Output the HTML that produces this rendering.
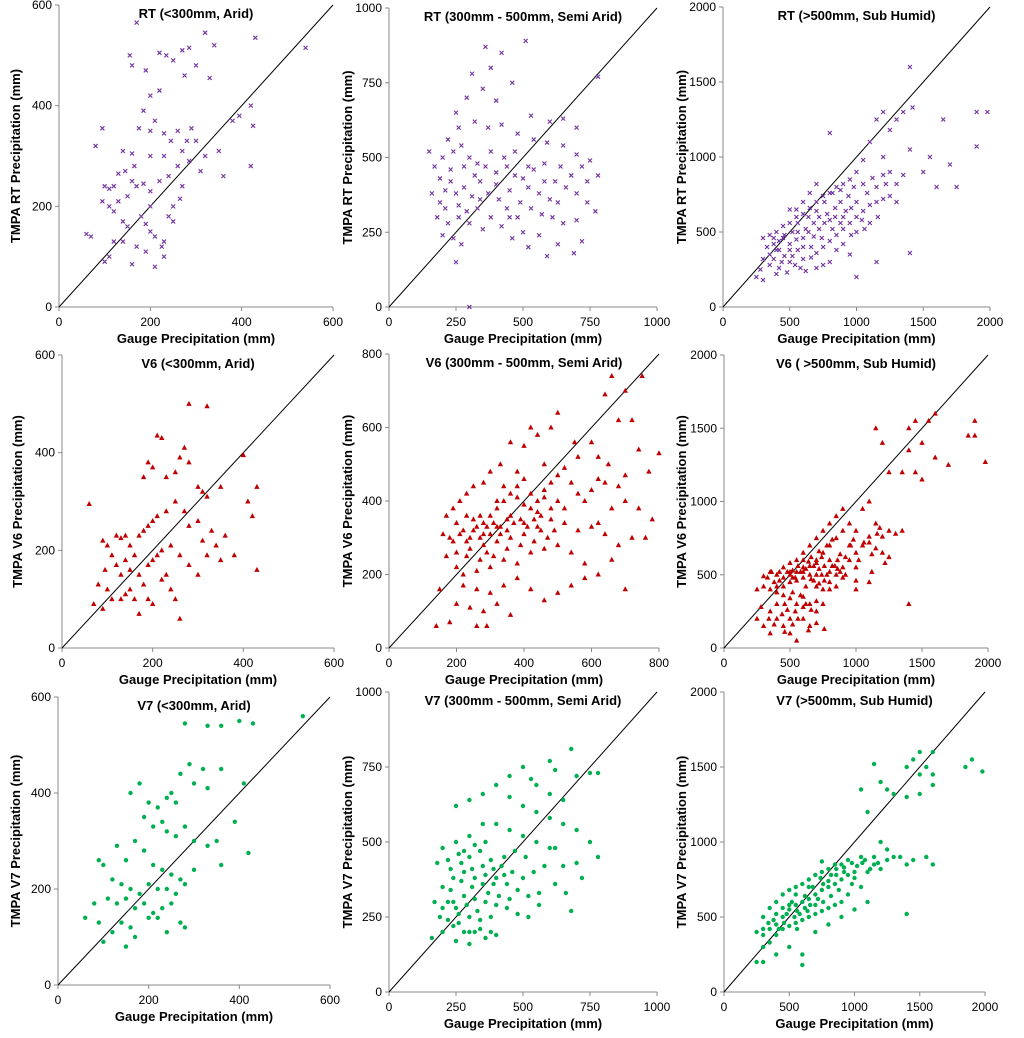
<!DOCTYPE html>
<html><head><meta charset="utf-8">
<style>
html,body{margin:0;padding:0;background:#fff;}
svg{display:block;font-family:"Liberation Sans",Arial,sans-serif;}
.t{font-weight:bold;font-size:13px;}
.tick{font-size:12px;}
</style></head>
<body>
<svg id="chart" width="1024" height="1038" viewBox="0 0 1024 1038" xmlns="http://www.w3.org/2000/svg"></svg>
<script>
// ---- data (mm) ----
const rtAridPts=[[170,565],[155,500],[160,480],[190,470],[220,505],[235,500],[250,490],[270,510],[285,515],[320,545],[340,520],[430,535],[540,515],[300,480],[330,455],[275,460],[200,420],[220,430],[185,390],[210,370],[175,355],[200,350],[230,345],[260,350],[290,355],[300,330],[245,330],[270,310],[230,300],[200,300],[160,305],[165,280],[145,270],[130,265],[120,240],[110,235],[100,240],[95,210],[110,200],[130,210],[150,220],[170,240],[185,245],[200,230],[220,250],[240,260],[260,280],[285,290],[320,300],[350,310],[380,370],[395,380],[420,400],[425,360],[360,260],[420,280],[80,320],[95,355],[140,310],[160,250],[120,190],[140,170],[150,160],[180,180],[190,165],[200,150],[210,140],[230,130],[225,120],[210,80],[160,85],[110,100],[100,90],[70,140],[60,145],[120,130],[140,130],[170,120],[190,110],[250,200],[270,240],[310,270],[240,180],[265,215],[200,200],[250,170],[280,330],[230,100]];
const rtSemiPts=[[360,870],[510,890],[420,850],[380,800],[310,780],[460,750],[350,730],[290,700],[400,690],[530,640],[600,620],[650,630],[700,600],[780,770],[250,650],[260,600],[320,620],[370,600],[420,610],[480,580],[540,560],[590,550],[650,540],[700,510],[750,490],[780,440],[200,500],[220,560],[240,520],[270,540],[300,500],[330,480],[360,470],[400,450],[440,470],[470,440],[500,430],[540,460],[580,420],[620,420],[660,400],[700,380],[740,350],[770,320],[150,520],[170,470],[190,430],[210,390],[230,420],[250,380],[280,400],[310,370],[340,420],[370,380],[410,360],[450,390],[490,350],[530,330],[570,310],[610,300],[650,280],[700,290],[720,220],[590,170],[630,210],[560,240],[500,250],[460,230],[420,270],[380,300],[330,330],[290,320],[260,300],[220,280],[200,240],[240,230],[270,210],[250,150],[300,0],[350,260],[450,300],[520,200],[690,180],[160,380],[180,300],[230,460],[280,470],[320,440],[380,520],[430,500],[470,520],[520,470],[560,380],[600,360],[640,470],[680,440],[720,470],[740,420],[260,340],[300,280],[340,360],[400,410],[440,330],[480,300],[520,400],[580,480],[630,350],[210,330],[190,350]];
const rtHumidPts=[[1400,1600],[1420,1330],[1350,1300],[1300,1250],[1200,1300],[1150,1250],[1900,1300],[1980,1300],[1650,1250],[1250,1180],[1100,1100],[1400,1050],[1550,1000],[1700,950],[1750,800],[1900,1070],[1500,900],[1350,880],[800,1160],[1200,1000],[1050,980],[1000,900],[950,850],[900,820],[850,800],[800,760],[750,740],[700,700],[650,660],[600,620],[550,600],[500,560],[450,540],[400,500],[350,480],[300,460],[380,420],[420,380],[460,340],[500,300],[540,280],[580,260],[620,240],[660,330],[700,360],[750,400],[800,440],[850,480],[900,520],[950,560],[1000,600],[1050,640],[1100,680],[1150,700],[1200,720],[1250,740],[1300,700],[1100,560],[1000,500],[900,420],[850,380],[800,300],[750,280],[700,260],[600,400],[550,450],[500,420],[450,460],[400,380],[350,350],[300,320],[280,250],[250,200],[300,180],[400,220],[480,230],[560,500],[620,520],[680,560],[720,600],[780,620],[840,660],[880,700],[940,740],[980,800],[1050,820],[1120,860],[1200,880],[650,760],[700,820],[600,700],[550,650],[500,650],[1400,360],[1600,800],[1150,300],[1000,200],[950,350],[420,440],[460,480],[520,500],[560,380],[600,460],[640,500],[680,470],[720,520],[760,560],[800,580],[840,600],[880,560],[920,640],[960,660],[1000,700],[1040,580],[1080,760],[1150,800],[1220,820],[380,320],[440,300],[520,340],[600,320],[660,400],[740,460],[820,520],[900,600],[960,480],[1060,520],[1160,600],[1250,900],[1300,820],[350,280],[420,260],[500,380],[560,560],[640,600],[700,640],[760,700],[820,760],[880,780],[330,400],[380,460]];
const v6AridPts=[[280,500],[320,495],[400,395],[210,435],[220,430],[190,380],[200,370],[180,350],[230,350],[250,360],[260,390],[270,410],[280,380],[300,330],[310,320],[320,310],[350,330],[410,300],[430,330],[60,295],[90,220],[100,210],[120,230],[130,225],[140,230],[150,210],[170,230],[180,240],[190,250],[200,260],[210,270],[230,280],[250,300],[270,280],[280,250],[300,260],[310,220],[330,240],[340,210],[360,230],[380,190],[420,270],[430,160],[110,190],[120,170],[130,150],[140,180],[150,160],[160,190],[170,150],[180,130],[190,170],[200,180],[210,190],[220,200],[240,210],[260,190],[280,170],[300,150],[320,190],[350,180],[100,120],[110,100],[90,80],[70,90],[80,130],[95,160],[130,100],[150,120],[170,70],[200,90],[220,140],[240,120],[250,100],[260,60],[230,150],[190,100],[140,110],[160,100]];
const v6SemiPts=[[750,740],[660,740],[640,690],[700,700],[720,620],[680,620],[800,530],[740,540],[770,480],[700,470],[650,500],[600,560],[550,560],[500,640],[480,600],[440,580],[400,550],[360,560],[330,500],[300,480],[280,450],[250,440],[230,420],[210,400],[190,380],[170,360],[200,340],[220,320],[240,300],[260,330],[280,340],[300,360],[320,380],[340,400],[360,420],[380,440],[400,460],[420,420],[440,400],[460,430],[480,450],[500,470],[520,490],[540,450],[560,420],[580,400],[600,430],[620,460],[640,450],[660,380],[700,400],[740,380],[780,350],[760,300],[720,300],[680,280],[640,310],[600,330],[560,320],[520,340],[480,350],[440,330],[400,310],[360,300],[320,290],[280,280],[240,270],[200,260],[180,300],[160,310],[200,220],[220,200],[260,210],[300,220],[340,240],[380,230],[420,260],[460,270],[500,280],[540,260],[580,230],[620,200],[660,240],[700,160],[220,170],[260,160],[300,150],[340,170],[380,190],[420,160],[460,130],[500,150],[540,170],[580,190],[200,120],[240,110],[280,100],[320,120],[360,90],[260,60],[290,60],[180,70],[150,160],[140,60],[620,340],[420,600],[380,480],[350,350],[450,360],[480,380],[520,380],[400,390],[300,310],[330,330],[270,360],[230,360],[560,520],[620,520],[680,440],[460,500],[210,310],[230,290],[250,320],[270,300],[290,330],[310,340],[330,310],[350,320],[370,340],[390,350],[410,330],[430,350],[450,320],[470,300],[490,320],[250,350],[280,310],[320,330],[360,360],[400,340],[440,370],[290,260],[310,250],[350,270],[390,280],[430,290],[190,290],[170,250],[230,250],[270,240],[320,400],[340,440],[380,410],[420,380],[460,410],[500,400]];
const v6HumidPts=[[1600,1600],[1550,1550],[1450,1550],[1400,1500],[1500,1400],[1600,1300],[1700,1250],[1900,1550],[1850,1450],[1900,1450],[1980,1270],[1400,1350],[1350,1200],[1450,1200],[1500,1150],[1150,1500],[1200,1400],[1250,1200],[1100,1000],[1050,950],[1150,850],[1250,800],[1300,780],[1350,800],[1200,760],[1100,760],[1000,800],[950,850],[900,800],[850,750],[800,700],[750,650],[700,600],[650,560],[600,550],[550,520],[500,500],[450,480],[400,500],[350,520],[300,490],[250,400],[300,420],[350,400],[400,380],[450,360],[500,340],[550,300],[600,280],[650,300],[700,320],[750,400],[800,450],[850,500],[900,550],[950,600],[1000,650],[1050,700],[1100,720],[1150,680],[1200,650],[1000,550],[900,480],[850,420],[800,400],[700,500],[650,500],[600,480],[550,460],[500,450],[450,420],[400,300],[350,250],[400,200],[450,150],[500,100],[550,50],[350,100],[300,150],[250,200],[600,200],[650,150],[700,250],[750,300],[550,600],[600,650],[650,700],[700,750],[750,800],[800,850],[850,900],[900,950],[950,700],[1400,300],[1000,400],[580,520],[620,540],[680,560],[720,540],[520,480],[480,520],[420,520],[380,450],[450,550],[500,580],[520,530],[560,560],[600,520],[640,590],[660,470],[700,580],[740,620],[760,560],[800,600],[820,560],[860,600],[880,640],[920,620],[960,700],[980,740],[1020,600],[1060,720],[1120,640],[1160,780],[1180,820],[400,420],[420,460],[460,300],[480,260],[520,380],[540,250],[560,200],[600,350],[620,300],[660,260],[700,420],[720,440],[760,460],[780,500],[840,560],[880,520],[920,500],[440,230],[380,160],[340,200],[280,280],[500,200],[580,360],[620,420],[680,460],[740,500],[800,520],[860,540],[500,520],[540,480],[360,520],[330,480],[600,600],[660,620],[720,660],[780,700],[820,740],[700,170],[760,130],[640,120],[520,160],[460,110],[1000,460],[1120,520],[1100,450],[1220,580],[1250,620]];
const v7AridPts=[[540,560],[280,545],[330,540],[360,540],[400,550],[430,545],[290,460],[320,450],[270,440],[300,420],[330,410],[360,450],[250,400],[260,380],[240,390],[390,340],[410,420],[420,275],[180,420],[160,400],[200,380],[220,370],[190,350],[230,340],[210,330],[240,320],[260,310],[280,330],[300,300],[330,290],[350,300],[300,240],[360,250],[280,210],[260,190],[240,200],[220,200],[200,210],[180,190],[160,200],[140,210],[120,220],[100,250],[90,260],[110,180],[130,170],[150,180],[170,160],[190,170],[210,150],[230,160],[250,170],[270,220],[250,230],[230,240],[210,250],[190,280],[170,300],[150,260],[130,290],[80,170],[60,140],[90,130],[100,90],[120,110],[140,130],[160,120],[170,100],[150,80],[200,140],[270,130],[280,120],[220,140],[240,110]];
const v7SemiPts=[[680,810],[600,770],[620,740],[500,750],[450,720],[530,710],[700,720],[750,730],[780,730],[550,690],[600,660],[650,640],[400,690],[350,660],[300,640],[250,620],[450,650],[500,620],[550,600],[600,580],[650,560],[700,540],[750,500],[780,450],[700,430],[720,380],[650,420],[600,480],[550,500],[500,520],[450,540],[400,560],[350,560],[300,520],[250,500],[200,480],[180,430],[220,440],[260,460],[300,450],[340,470],[380,440],[420,420],[460,400],[500,380],[540,400],[580,420],[620,360],[660,330],[680,270],[560,330],[520,320],[480,340],[440,360],[400,380],[360,390],[320,380],[280,400],[240,380],[200,350],[170,300],[200,280],[240,300],[280,320],[320,310],[360,300],[400,290],[440,280],[480,260],[520,250],[380,250],[340,240],[300,250],[260,260],[220,240],[190,250],[160,180],[200,200],[240,220],[280,200],[320,200],[360,180],[400,190],[250,170],[300,160],[380,200],[560,290],[620,480],[230,340],[270,370],[310,350],[350,420],[390,410],[430,450],[470,470],[510,450],[250,280],[290,290],[330,270],[370,330],[410,320],[450,310],[230,410],[270,430],[310,410],[350,360],[390,360],[430,390],[220,300],[260,230],[300,200],[340,210],[280,470],[320,490],[360,500]];
const v7HumidPts=[[1600,1600],[1500,1600],[1450,1550],[1550,1500],[1400,1500],[1500,1450],[1600,1450],[1850,1500],[1900,1550],[1980,1470],[1150,1520],[1200,1400],[1250,1350],[1300,1320],[1400,1300],[1500,1320],[1600,1380],[1050,1350],[1100,1200],[1200,1000],[1300,900],[1400,850],[1600,850],[1550,900],[1450,880],[1350,900],[1250,950],[1150,900],[1050,900],[950,880],[850,850],[800,820],[750,800],[700,780],[650,750],[600,720],[550,700],[500,680],[450,650],[400,600],[350,560],[300,500],[250,400],[300,380],[350,420],[400,450],[450,500],[500,550],[550,580],[600,600],[650,620],[700,650],[750,680],[800,700],[850,720],[900,750],[950,780],[1000,800],[1100,800],[1200,820],[1050,700],[950,650],[900,600],[850,580],[800,560],[750,540],[700,520],[650,500],[600,480],[550,460],[500,440],[450,420],[400,380],[350,330],[300,300],[250,200],[300,200],[400,250],[500,300],[600,250],[600,180],[700,400],[800,450],[900,500],[1000,550],[1100,600],[1400,520],[1150,850],[900,850],[750,870],[650,700],[550,650],[500,580],[450,560],[400,520],[480,520],[520,600],[560,540],[620,560],[660,580],[720,620],[760,720],[820,780],[860,820],[920,800],[980,860],[1020,840],[1080,880],[1120,820],[1180,860],[980,720],[880,680],[820,640],[760,600],[700,580],[640,540],[580,520],[540,500],[460,460],[420,420],[380,480],[340,460],[300,420],[560,420],[620,640],[680,700],[740,760],[800,740],[860,780],[920,830],[1060,860],[1000,760],[1250,880]];
const ticks600=[0,200,400,600];
const ticks1000=[0,250,500,750,1000];
const ticks800=[0,200,400,600,800];
const ticks2000=[0,500,1000,1500,2000];

// ---- layout ----
const panels=[
 {name:'rt-arid',title:'RT (<300mm, Arid)',ylab:'TMPA RT Precipitation (mm)',pts:rtAridPts,ticks:ticks600,x0:59,x1:333,y0:307,y1:5,ylx:20,m:'x'},
 {name:'rt-semi-arid',title:'RT (300mm - 500mm, Semi Arid)',ylab:'TMPA RT Precipitation (mm)',pts:rtSemiPts,ticks:ticks1000,x0:389,x1:657,y0:307,y1:8,ylx:352,m:'x'},
 {name:'rt-sub-humid',title:'RT (>500mm, Sub Humid)',ylab:'TMPA RT Precipitation (mm)',pts:rtHumidPts,ticks:ticks2000,x0:723,x1:990,y0:307,y1:7,ylx:686,m:'x'},
 {name:'v6-arid',title:'V6 (<300mm, Arid)',ylab:'TMPA V6 Precipitation (mm)',pts:v6AridPts,ticks:ticks600,x0:62,x1:334,y0:648,y1:355,ylx:22,m:'t'},
 {name:'v6-semi-arid',title:'V6 (300mm - 500mm, Semi Arid)',ylab:'TMPA V6 Precipitation (mm)',pts:v6SemiPts,ticks:ticks800,x0:389,x1:659,y0:648,y1:354,ylx:352,m:'t'},
 {name:'v6-sub-humid',title:'V6 ( >500mm, Sub Humid)',ylab:'TMPA V6 Precipitation (mm)',pts:v6HumidPts,ticks:ticks2000,x0:724,x1:988,y0:648,y1:355,ylx:686,m:'t'},
 {name:'v7-arid',title:'V7   (<300mm, Arid)',ylab:'TMPA V7 Precipitation (mm)',pts:v7AridPts,ticks:ticks600,x0:58,x1:330,y0:985,y1:697,ylx:20,m:'c'},
 {name:'v7-semi-arid',title:'V7   (300mm - 500mm, Semi Arid)',ylab:'TMPA V7 Precipitation (mm)',pts:v7SemiPts,ticks:ticks1000,x0:389,x1:657,y0:992,y1:692,ylx:352,m:'c'},
 {name:'v7-sub-humid',title:'V7   (>500mm, Sub Humid)',ylab:'TMPA V7 Precipitation (mm)',pts:v7HumidPts,ticks:ticks2000,x0:724,x1:985,y0:992,y1:692,ylx:686,m:'c'}
];
const NS='http://www.w3.org/2000/svg';
const svg=document.getElementById('chart');
function mk(tag,attrs,parent,text){const e=document.createElementNS(NS,tag);for(const k in attrs)e.setAttribute(k,attrs[k]);if(text!==undefined)e.textContent=text;parent.appendChild(e);return e;}
panels.forEach(p=>{
 const max=p.ticks[p.ticks.length-1];
 const sx=v=>p.x0+(v/max)*(p.x1-p.x0);
 const sy=v=>p.y0-(v/max)*(p.y0-p.y1);
 const g=mk('g',{},svg);
 
 
 const ax=mk('line',{x1:p.x0,y1:p.y0,x2:p.x1,y2:p.y0,stroke:'#888','stroke-width':1},g);
 
 
 const ay=mk('line',{x1:p.x0,y1:p.y0,x2:p.x0,y2:p.y1,stroke:'#888','stroke-width':1},g);
 
 
 p.ticks.forEach(t=>{
  mk('line',{x1:sx(t),y1:p.y0,x2:sx(t),y2:p.y0+4,stroke:'#888'},g);
  mk('line',{x1:p.x0-4,y1:sy(t),x2:p.x0,y2:sy(t),stroke:'#888'},g);
  const xl=mk('text',{x:sx(t),y:p.y0+19,'text-anchor':'middle',class:'tick'},g,String(t));
  
  
  const yl=mk('text',{x:p.x0-7,y:sy(t)+4,'text-anchor':'end',class:'tick'},g,String(t));
  
  
 });
 const d=mk('line',{x1:sx(0),y1:sy(0),x2:sx(max),y2:sy(max),stroke:'#000','stroke-width':1},g);
 
 
 p.pts.forEach(pt=>{
  const x=sx(pt[0]),y=sy(pt[1]);
  let e;
  if(p.m==='x'){
   e=mk('path',{d:`M${x-2},${y-2}L${x+2},${y+2}M${x-2},${y+2}L${x+2},${y-2}`,stroke:'#7030a0','stroke-width':1.1,fill:'none'},g);
  }else if(p.m==='t'){
   e=mk('path',{d:`M${x},${y-3}L${x+2.7},${y+2}L${x-2.7},${y+2}Z`,fill:'#c00000'},g);
  }else{
   e=mk('circle',{cx:x,cy:y,r:2.2,fill:'#00b050'},g);
  }
  
  
 });
 const tt=mk('text',{x:(p.x0+p.x1)/2,y:p.y1+13,'text-anchor':'middle',class:'t'},g,p.title);
 
 
 const xt=mk('text',{x:(p.x0+p.x1)/2,y:p.y0+36,'text-anchor':'middle',class:'t'},g,'Gauge Precipitation (mm)');
 
 
 const cy=(p.y0+p.y1)/2;
 const yt=mk('text',{x:p.ylx,y:cy,'text-anchor':'middle',class:'t',transform:`rotate(-90 ${p.ylx} ${cy})`},g,p.ylab);
 
 
});
</script>
</body></html>
